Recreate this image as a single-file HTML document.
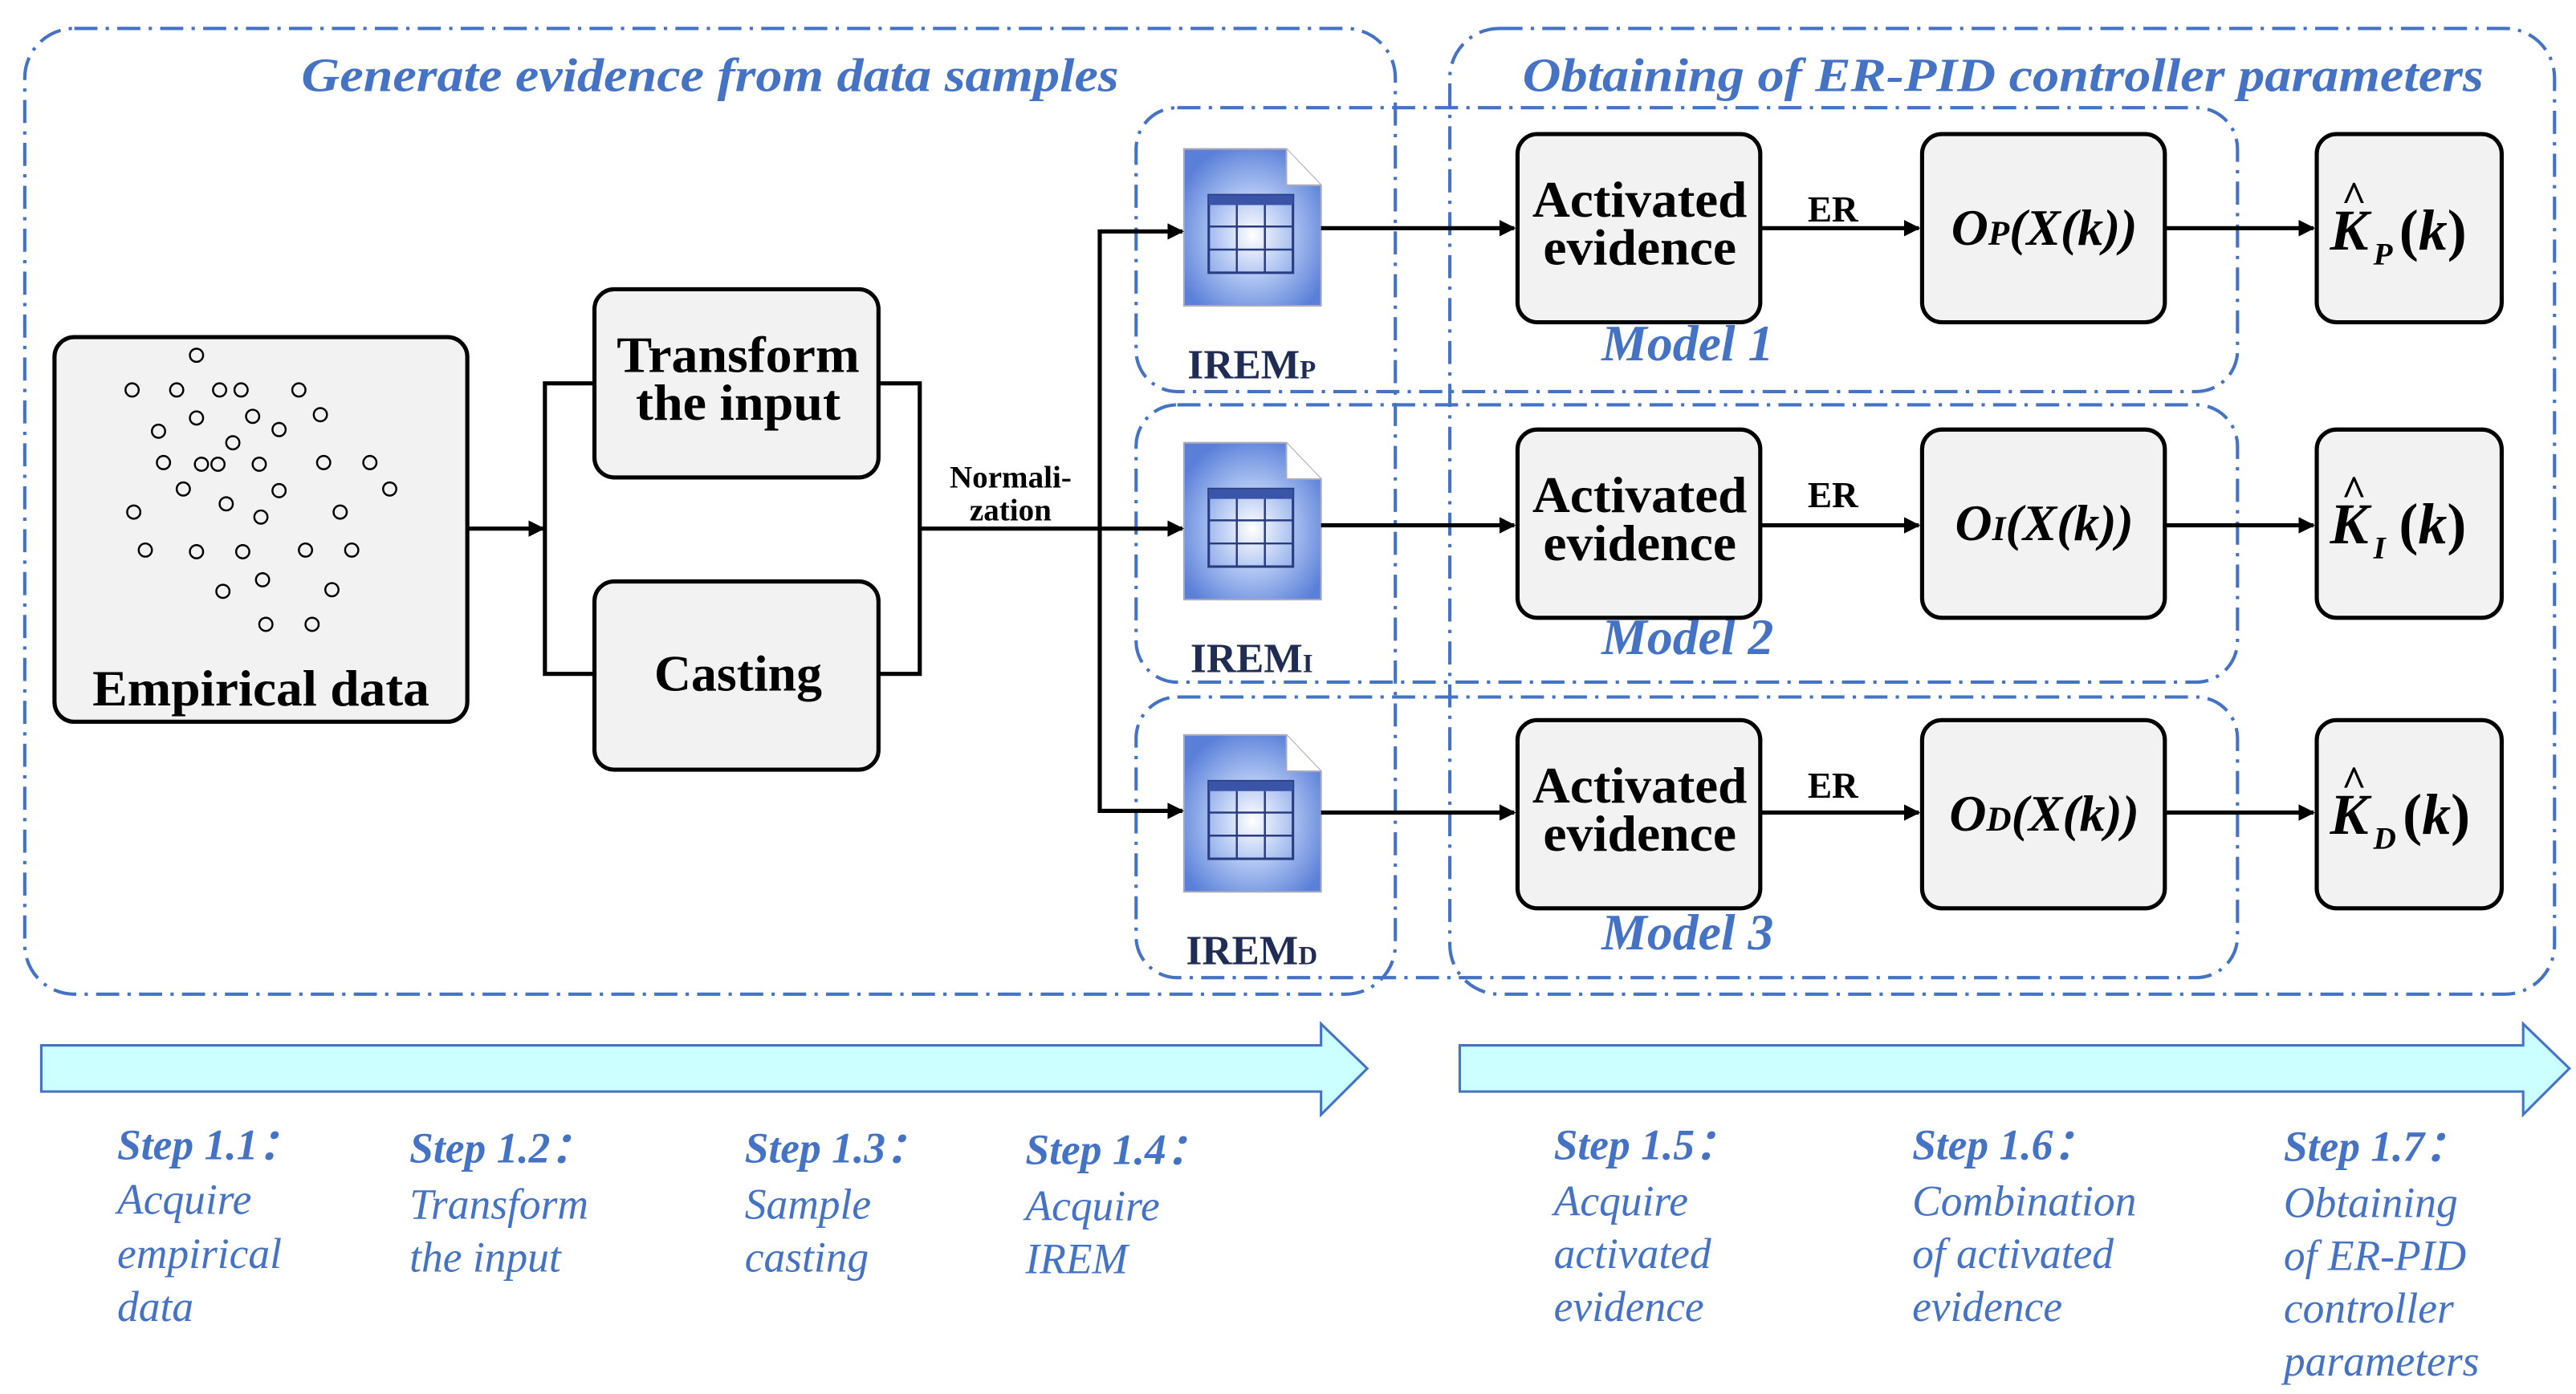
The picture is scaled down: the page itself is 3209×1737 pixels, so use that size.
<!DOCTYPE html>
<html><head><meta charset="utf-8"><style>html,body{margin:0;padding:0;background:#fff}svg{display:block}</style></head>
<body>
<svg width="3209" height="1737" viewBox="0 0 1560 844" xmlns="http://www.w3.org/2000/svg" font-family="Liberation Serif, serif">
<defs>
<marker id="ah" markerWidth="10" markerHeight="10" refX="9" refY="5" orient="auto" markerUnits="userSpaceOnUse" viewBox="0 0 10 10">
<path d="M0,0 L10,5 L0,10 z" fill="#000"/></marker>
<radialGradient id="ig" cx="0.5" cy="0.55" r="0.6"><stop offset="0" stop-color="#ffffff"/><stop offset="0.5" stop-color="#a8bff0"/><stop offset="1" stop-color="#5a7fd8"/></radialGradient>
<g id="icon">
<path d="M0,0 H62 L83,22 V95 H0 Z" fill="url(#ig)" stroke="#aab" stroke-width="1"/>
<path d="M62,0 V22 H83" fill="#fff" stroke="#aab" stroke-width="1"/>
<rect x="15" y="28" width="51" height="47" fill="none" stroke="#2a3c80" stroke-width="1.5"/>
<rect x="15" y="28" width="51" height="6" fill="#3a55a8"/>
<path d="M15,47 H66 M15,61 H66 M32,34 V75 M49,34 V75" stroke="#2a3c80" stroke-width="1.2"/>
</g>
</defs>
<g fill="none" stroke="#4472c4" stroke-width="2" stroke-dasharray="14,5,2,5">
<rect x="15" y="17" width="830" height="585" rx="30"/>
<rect x="878" y="17" width="669" height="585" rx="30"/>
<rect x="688" y="65" width="667" height="172" rx="25"/>
<rect x="688" y="245" width="667" height="168" rx="25"/>
<rect x="688" y="422" width="667" height="170" rx="25"/>
</g>
<g fill="#4472c4" font-style="italic" font-weight="bold" font-size="29" text-anchor="middle">
<text x="430" y="55" textLength="495" lengthAdjust="spacingAndGlyphs">Generate evidence from data samples</text>
<text x="1213" y="55" textLength="582" lengthAdjust="spacingAndGlyphs">Obtaining of ER-PID controller parameters</text>
<text x="1022" y="218" font-size="31">Model 1</text>
<text x="1022" y="396" font-size="31">Model 2</text>
<text x="1022" y="575" font-size="31">Model 3</text>
</g>
<g fill="#f2f2f2" stroke="#000" stroke-width="2.5">
<rect x="33" y="204" width="250" height="233" rx="12"/>
<rect x="360" y="175" width="172" height="114" rx="12"/>
<rect x="360" y="352" width="172" height="114" rx="12"/>
<rect x="919" y="81" width="147" height="114" rx="12"/>
<rect x="919" y="260" width="147" height="114" rx="12"/>
<rect x="919" y="436" width="147" height="114" rx="12"/>
<rect x="1164" y="81" width="147" height="114" rx="12"/>
<rect x="1164" y="260" width="147" height="114" rx="12"/>
<rect x="1164" y="436" width="147" height="114" rx="12"/>
<rect x="1403" y="81" width="112" height="114" rx="12"/>
<rect x="1403" y="260" width="112" height="114" rx="12"/>
<rect x="1403" y="436" width="112" height="114" rx="12"/>
</g>
<g fill="none" stroke="#000" stroke-width="1.2">
<circle cx="119" cy="215" r="4"/><circle cx="80" cy="236" r="4"/><circle cx="107" cy="236" r="4"/><circle cx="133" cy="236" r="4"/><circle cx="146" cy="236" r="4"/><circle cx="181" cy="236" r="4"/><circle cx="119" cy="253" r="4"/><circle cx="153" cy="252" r="4"/><circle cx="169" cy="260" r="4"/><circle cx="194" cy="251" r="4"/><circle cx="96" cy="261" r="4"/><circle cx="141" cy="268" r="4"/><circle cx="99" cy="280" r="4"/><circle cx="122" cy="281" r="4"/><circle cx="132" cy="281" r="4"/><circle cx="157" cy="281" r="4"/><circle cx="196" cy="280" r="4"/><circle cx="224" cy="280" r="4"/><circle cx="111" cy="296" r="4"/><circle cx="169" cy="297" r="4"/><circle cx="236" cy="296" r="4"/><circle cx="81" cy="310" r="4"/><circle cx="137" cy="305" r="4"/><circle cx="158" cy="313" r="4"/><circle cx="206" cy="310" r="4"/><circle cx="88" cy="333" r="4"/><circle cx="119" cy="334" r="4"/><circle cx="147" cy="334" r="4"/><circle cx="185" cy="333" r="4"/><circle cx="213" cy="333" r="4"/><circle cx="159" cy="351" r="4"/><circle cx="135" cy="358" r="4"/><circle cx="201" cy="357" r="4"/><circle cx="161" cy="378" r="4"/><circle cx="189" cy="378" r="4"/>
</g>
<g fill="#000" font-weight="bold" text-anchor="middle" font-size="31">
<text x="158" y="427" textLength="204" lengthAdjust="spacingAndGlyphs">Empirical data</text>
<text x="447" y="225" textLength="147" lengthAdjust="spacingAndGlyphs">Transform</text>
<text x="447" y="254" textLength="124" lengthAdjust="spacingAndGlyphs">the input</text>
<text x="447" y="418">Casting</text>
<text x="993" y="131" textLength="130" lengthAdjust="spacingAndGlyphs">Activated</text><text x="993" y="160" textLength="117" lengthAdjust="spacingAndGlyphs">evidence</text>
<text x="993" y="310" textLength="130" lengthAdjust="spacingAndGlyphs">Activated</text><text x="993" y="339" textLength="117" lengthAdjust="spacingAndGlyphs">evidence</text>
<text x="993" y="486" textLength="130" lengthAdjust="spacingAndGlyphs">Activated</text><text x="993" y="515" textLength="117" lengthAdjust="spacingAndGlyphs">evidence</text>
<text x="612" y="295" font-size="19">Normali-</text>
<text x="612" y="315" font-size="19">zation</text>
<text x="1110" y="134" font-size="22">ER</text>
<text x="1110" y="307" font-size="22">ER</text>
<text x="1110" y="483" font-size="22">ER</text>
</g>
<g fill="#000" font-weight="bold" font-style="italic" font-size="31" text-anchor="middle">
<text x="1238" y="148">O<tspan font-size="21">P</tspan>(X(k))</text>
<text x="1238" y="327">O<tspan font-size="21">I</tspan>(X(k))</text>
<text x="1238" y="503">O<tspan font-size="21">D</tspan>(X(k))</text>
</g>
<g fill="#000" font-weight="bold" font-style="italic" font-size="35">
<text x="1411" y="151">K<tspan font-size="19" dy="9" dx="3">P</tspan><tspan dy="-9" dx="4" font-style="normal">(</tspan>k<tspan font-style="normal">)</tspan></text>
<text x="1411" y="329">K<tspan font-size="19" dy="9" dx="3">I</tspan><tspan dy="-9" dx="8" font-style="normal">(</tspan>k<tspan font-style="normal">)</tspan></text>
<text x="1411" y="505">K<tspan font-size="19" dy="9" dx="3">D</tspan><tspan dy="-9" dx="4" font-style="normal">(</tspan>k<tspan font-style="normal">)</tspan></text>
<text x="1418" y="128" font-size="26" font-style="normal">^</text>
<text x="1418" y="306" font-size="26" font-style="normal">^</text>
<text x="1418" y="482" font-size="26" font-style="normal">^</text>
</g>
<use href="#icon" x="717" y="90"/>
<use href="#icon" x="717" y="268"/>
<use href="#icon" x="717" y="445"/>
<g fill="#1f2d55" font-weight="bold" font-size="25" text-anchor="middle">
<text x="758" y="229">IREM<tspan font-size="16">P</tspan></text>
<text x="758" y="407">IREM<tspan font-size="16">I</tspan></text>
<text x="758" y="584">IREM<tspan font-size="16">D</tspan></text>
</g>
<g fill="none" stroke="#000" stroke-width="2.5">
<path d="M283,320 H329" marker-end="url(#ah)"/>
<path d="M360,232 H330 V408 H360"/>
<path d="M532,232 H557 V408 H532"/>
<path d="M557,320 H716" marker-end="url(#ah)"/>
<path d="M716,140 H666 V491 H716" />
<path d="M666,140 H716" marker-end="url(#ah)"/>
<path d="M666,491 H716" marker-end="url(#ah)"/>
<path d="M800,138 H917" marker-end="url(#ah)"/>
<path d="M800,318 H917" marker-end="url(#ah)"/>
<path d="M800,492 H917" marker-end="url(#ah)"/>
<path d="M1066,138 H1162" marker-end="url(#ah)"/>
<path d="M1066,318 H1162" marker-end="url(#ah)"/>
<path d="M1066,492 H1162" marker-end="url(#ah)"/>
<path d="M1311,138 H1401" marker-end="url(#ah)"/>
<path d="M1311,318 H1401" marker-end="url(#ah)"/>
<path d="M1311,492 H1401" marker-end="url(#ah)"/>
</g>
<g fill="#ccffff" stroke="#4472c4" stroke-width="1.5">
<path d="M25,633 H800 V620 L828,647 L800,675 V661 H25 Z"/>
<path d="M884,633 H1528 V620 L1556,647 L1528,675 V661 H884 Z"/>
</g>
<g fill="#4472c4" font-style="italic" font-size="26">
<g font-weight="bold"><text x="71" y="702">Step 1.1：</text><text x="248" y="704">Step 1.2：</text><text x="451" y="704">Step 1.3：</text><text x="621" y="705">Step 1.4：</text><text x="941" y="702">Step 1.5：</text><text x="1158" y="702">Step 1.6：</text><text x="1383" y="703">Step 1.7：</text></g>
<text x="71" y="735">Acquire</text><text x="71" y="768">empirical</text><text x="71" y="800">data</text>
<text x="248" y="738">Transform</text><text x="248" y="770">the input</text>
<text x="451" y="738">Sample</text><text x="451" y="770">casting</text>
<text x="621" y="739">Acquire</text><text x="621" y="771">IREM</text>
<text x="941" y="736">Acquire</text><text x="941" y="768">activated</text><text x="941" y="800">evidence</text>
<text x="1158" y="736">Combination</text><text x="1158" y="768">of activated</text><text x="1158" y="800">evidence</text>
<text x="1383" y="737">Obtaining</text><text x="1383" y="769">of ER-PID</text><text x="1383" y="801">controller</text><text x="1383" y="833">parameters</text>
</g>
</svg>
</body></html>
